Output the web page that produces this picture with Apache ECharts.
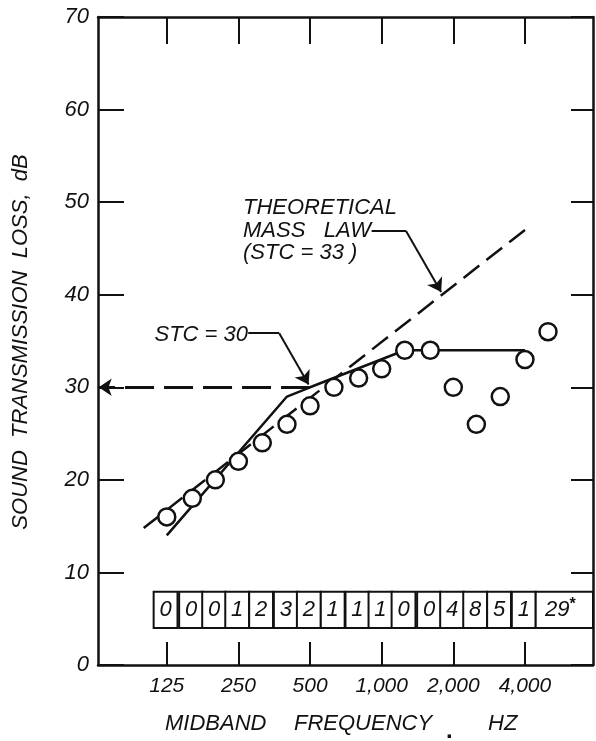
<!DOCTYPE html>
<html><head><meta charset="utf-8">
<script src="https://cdn.jsdelivr.net/npm/echarts@6/dist/echarts.min.js"></script>
<style>html,body{margin:0;padding:0;background:#fff}#c{width:596px;height:741px}</style>
</head><body><div id="c"></div>
<script>
// ---- data ----
const bandFreqs = [125,160,200,250,315,400,500,630,800,1000,1250,1600,2000,2500,3150,4000,5000];
const measuredTL = [16,18,20,22,24,26,28,30,31,32,34,34,30,26,29,33,36];
const contourFreqs = [125,400,500,1250,4000];
const contourTL = [14,29,30,34,34];
const massLawFreqs = [100,4000];
const massLawTL = [14.8,47];
const deficiencyFreqs = [125,160,200,250,315,400,500,630,800,1000,1250,1600,2000,2500,3150,4000];
const deficiencies = [0,0,0,1,2,3,2,1,1,1,0,0,4,8,5,1];
const deficiencyTotal = '29';
const xTickFreqs = [125,250,500,1000,2000,4000];
const xTickLabels = ['125','250','500','1,000','2,000','4,000'];
const yMin = 0, yMax = 70, yStep = 10;
const stcValue = 30;

// ---- helpers ----
const oct = f => Math.log2(f / 125);
const X_MIN = -0.96, X_MAX = 5.95;
const INK = '#111';
const FONT = '"Liberation Sans", Arial, sans-serif';
const TABLE_TOP = 7.9, TABLE_BOTTOM = 4.0;

const tableData = deficiencyFreqs.map((f, i) => [oct(f) - 0.55/3, oct(f) + 0.45/3, String(deficiencies[i])]);
tableData.push([oct(deficiencyFreqs[deficiencyFreqs.length-1]) + 0.45/3, X_MAX, '{n|' + deficiencyTotal + '}{s|*}']);

const chart = echarts.init(document.getElementById('c'), null, {renderer: 'canvas'});
const xTickVals = xTickFreqs.map(oct);
const axisLineStyle = {color: INK, width: 2.5};
const solid2 = {type: 'solid', width: 2, color: INK};

chart.setOption({
  animation: false,
  backgroundColor: '#fff',
  grid: {left: 98, top: 17, width: 495, height: 648, show: false},
  xAxis: [{
    type: 'value', min: X_MIN, max: X_MAX, position: 'bottom',
    axisLine: {show: true, onZero: false, lineStyle: axisLineStyle},
    axisTick: {show: true, inside: true, length: 23, customValues: xTickVals, lineStyle: {color: INK, width: 2}},
    axisLabel: {show: true, customValues: xTickVals, margin: 11,
      formatter: v => xTickLabels[Math.round(v)],
      fontFamily: FONT, fontStyle: 'italic', fontSize: 21, color: INK},
    splitLine: {show: false}
  }, {
    type: 'value', min: X_MIN, max: X_MAX, position: 'top',
    axisLine: {show: true, onZero: false, lineStyle: axisLineStyle},
    axisTick: {show: true, inside: true, length: 27, customValues: xTickVals, lineStyle: {color: INK, width: 2}},
    axisLabel: {show: false},
    splitLine: {show: false}
  }],
  yAxis: [{
    type: 'value', min: yMin, max: yMax, interval: yStep, position: 'left',
    axisLine: {show: true, onZero: false, lineStyle: axisLineStyle},
    axisTick: {show: true, inside: true, length: 26, lineStyle: {color: INK, width: 2}},
    axisLabel: {show: true, margin: 9, fontFamily: FONT, fontStyle: 'italic', fontSize: 22, color: INK},
    splitLine: {show: false}
  }, {
    type: 'value', min: yMin, max: yMax, interval: yStep, position: 'right',
    axisLine: {show: true, onZero: false, lineStyle: axisLineStyle},
    axisTick: {show: true, inside: true, length: 22, lineStyle: {color: INK, width: 2}},
    axisLabel: {show: false},
    splitLine: {show: false}
  }],
  series: [
    {
      name: 'STC contour', type: 'line', symbol: 'none', z: 3,
      data: contourFreqs.map((f, i) => [oct(f), contourTL[i]]),
      lineStyle: {color: INK, width: 2.5},
      markLine: {
        silent: true, animation: false, label: {show: false},
        symbolSize: 13,
        data: [
          [{coord: [oct(500), stcValue], symbol: 'none'}, {coord: [X_MIN + 0.01, stcValue], symbol: 'arrow', lineStyle: {type: [29, 10], width: 3, color: INK}}],
          [{coord: [1.137, 35.85], symbol: 'none'}, {coord: [1.57, 35.85], symbol: 'none', lineStyle: solid2}],
          [{coord: [1.57, 35.85], symbol: 'none'}, {coord: [1.98, 30.3], symbol: 'arrow', lineStyle: solid2}],
          [{coord: [2.86, 46.87], symbol: 'none'}, {coord: [3.34, 46.87], symbol: 'none', lineStyle: solid2}],
          [{coord: [3.34, 46.87], symbol: 'none'}, {coord: [3.83, 40.3], symbol: 'arrow', lineStyle: solid2}]
        ],
        lineStyle: {color: INK, width: 2, type: 'solid'}
      }
    },
    {
      name: 'Mass law', type: 'line', symbol: 'none', z: 3,
      data: massLawFreqs.map((f, i) => [oct(f), massLawTL[i]]),
      lineStyle: {color: INK, width: 2.5, type: [20, 9]}
    },
    {
      name: 'Measured', type: 'scatter', z: 5,
      data: bandFreqs.map((f, i) => [oct(f), measuredTL[i]]),
      symbol: 'circle', symbolSize: 17,
      itemStyle: {color: '#fff', borderColor: INK, borderWidth: 2.5, opacity: 1}
    },
    {
      name: 'Deficiencies', type: 'custom', z: 6,
      data: tableData,
      encode: {x: [0, 1]},
      renderItem: (params, api) => {
        const x0 = api.value(0), x1 = api.value(1);
        const p0 = api.coord([x0, TABLE_TOP]);
        const p1 = api.coord([x1, TABLE_BOTTOM]);
        const txt = tableData[params.dataIndex][2];
        return {
          type: 'group',
          children: [
            {type: 'rect', shape: {x: p0[0], y: p0[1], width: p1[0] - p0[0], height: p1[1] - p0[1]},
             style: {fill: '#fff', stroke: INK, lineWidth: 2}},
            {type: 'text', style: {
              text: txt, x: (p0[0] + p1[0]) / 2 + (params.dataIndex === tableData.length - 1 ? -4 : 0), y: (p0[1] + p1[1]) / 2,
              align: 'center', verticalAlign: 'middle',
              fontFamily: FONT, fontStyle: 'italic', fontSize: 22, fill: INK,
              rich: {n: {fontFamily: FONT, fontStyle: 'italic', fontSize: 22, fill: INK, color: INK},
                     s: {fontFamily: FONT, fontSize: 16, fontWeight: 'bold', color: INK, verticalAlign: 'top', padding: [0,0,10,0]}}
            }}
          ]
        };
      }
    }
  ],
  graphic: [
    {type: 'text', x: 21, y: 342, rotation: Math.PI / 2,
     style: {text: 'SOUND  TRANSMISSION  LOSS,  dB', font: 'italic 22px ' + FONT, fill: INK, align: 'center', verticalAlign: 'middle'}},
    {type: 'text', x: 165, y: 724,
     style: {text: 'MIDBAND', font: 'italic 22px ' + FONT, fill: INK, align: 'left', verticalAlign: 'middle'}},
    {type: 'text', x: 294, y: 724,
     style: {text: 'FREQUENCY', font: 'italic 22px ' + FONT, fill: INK, align: 'left', verticalAlign: 'middle'}},
    {type: 'text', x: 446, y: 731,
     style: {text: '.', font: 'bold 24px ' + FONT, fill: INK, align: 'left', verticalAlign: 'middle'}},
    {type: 'text', x: 488, y: 724,
     style: {text: 'HZ', font: 'italic 22px ' + FONT, fill: INK, align: 'left', verticalAlign: 'middle'}},
    {type: 'text', x: 248, y: 335,
     style: {text: 'STC = 30', font: 'italic 22px ' + FONT, fill: INK, align: 'right', verticalAlign: 'middle'}},
    {type: 'text', x: 243, y: 208,
     style: {text: 'THEORETICAL', font: 'italic 22px ' + FONT, fill: INK, align: 'left', verticalAlign: 'middle'}},
    {type: 'text', x: 243, y: 231,
     style: {text: 'MASS   LAW', font: 'italic 22px ' + FONT, fill: INK, align: 'left', verticalAlign: 'middle'}},
    {type: 'text', x: 243, y: 253,
     style: {text: '(STC = 33 )', font: 'italic 22px ' + FONT, fill: INK, align: 'left', verticalAlign: 'middle'}}
  ]
});
</script>
</body></html>
